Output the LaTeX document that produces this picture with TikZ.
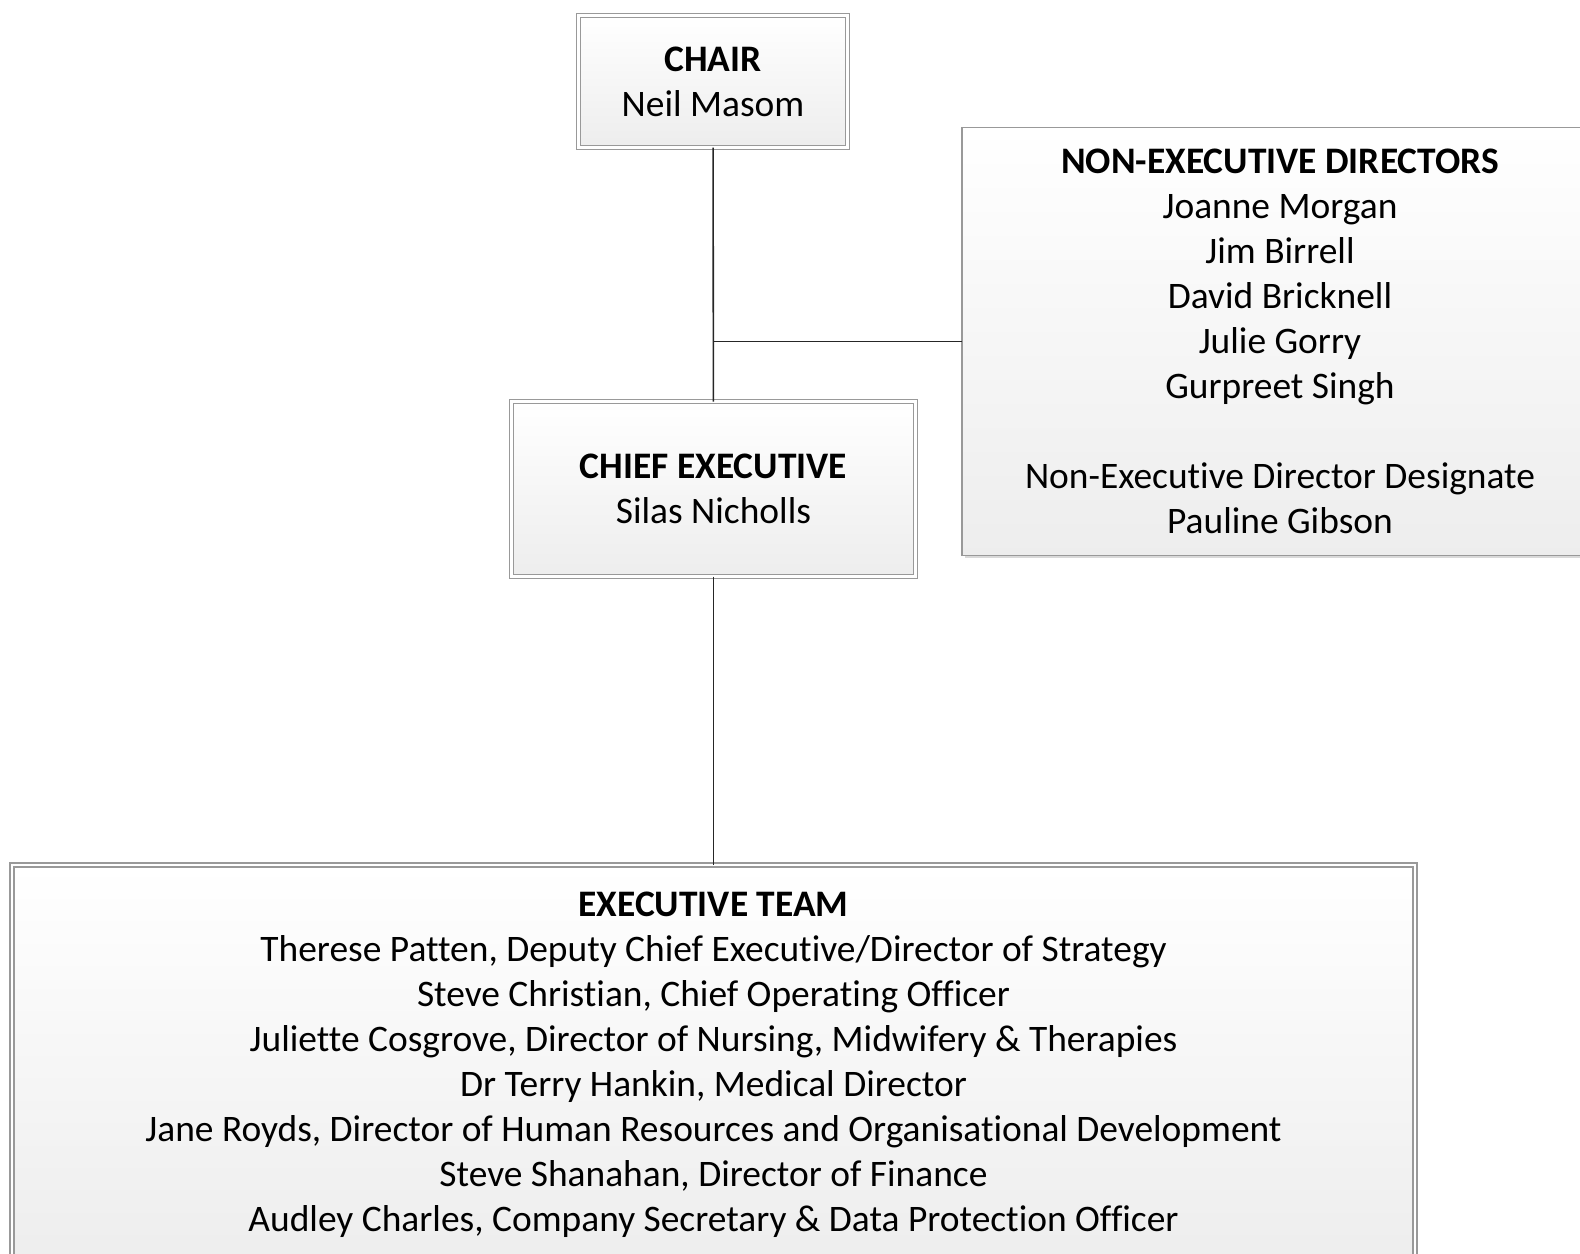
\documentclass[tikz,border=0pt]{standalone}
\usepackage{fontspec}
\setmainfont[Ligatures=NoCommon]{Carlito}
\usepackage{tikz}
\usetikzlibrary{shadows,calc}
\tikzset{box/.style={rectangle, draw=black!40, line width=0.7pt, top color=white, bottom color=black!7, align=center, inner sep=0pt, outer sep=0pt, font=\fontsize{21.3}{25.6}\selectfont, drop shadow={shadow xshift=1.5pt, shadow yshift=-1.5pt, fill=black!25, opacity=0.6}},
  dbox/.style={box, double=white, double distance=1.6pt},
  link/.style={draw=black!85, line width=0.9pt}}

\begin{document}
\begin{tikzpicture}
  \useasboundingbox (0,0) rectangle (31.6,-25.08);
  \node[dbox, minimum width=5.37cm, minimum height=2.64cm] (chair) at (14.26,-1.63) {\textbf{CHAIR}\\Neil Masom};
  \node[box, minimum width=12.72cm, minimum height=8.56cm] (ned) at (25.6,-6.83) {\textbf{NON-EXECUTIVE DIRECTORS}\\Joanne Morgan\\Jim Birrell\\David Bricknell\\Julie Gorry\\Gurpreet Singh\\[25.6pt]Non-Executive Director Designate\\Pauline Gibson};
  \node[dbox, minimum width=8.08cm, minimum height=3.5cm] (ceo) at (14.27,-9.78) {\textbf{CHIEF EXECUTIVE}\\Silas Nicholls};
  \node[dbox, minimum width=28.06cm, minimum height=8cm] (exec) at (14.27,-21.3) {\textbf{EXECUTIVE TEAM}\\Therese Patten, Deputy Chief Executive/Director of Strategy\\Steve Christian, Chief Operating Officer\\Juliette Cosgrove, Director of Nursing, Midwifery \& Therapies\\Dr Terry Hankin, Medical Director\\Jane Royds, Director of Human Resources and Organisational Development\\Steve Shanahan, Director of Finance\\Audley Charles, Company Secretary \& Data Protection Officer};
  \draw[link] (chair) -- (ceo);
  \draw[link] (ceo) -- (exec);
  \draw[link] (ned.west) -- (ned.west -| chair);
\end{tikzpicture}
\end{document}
